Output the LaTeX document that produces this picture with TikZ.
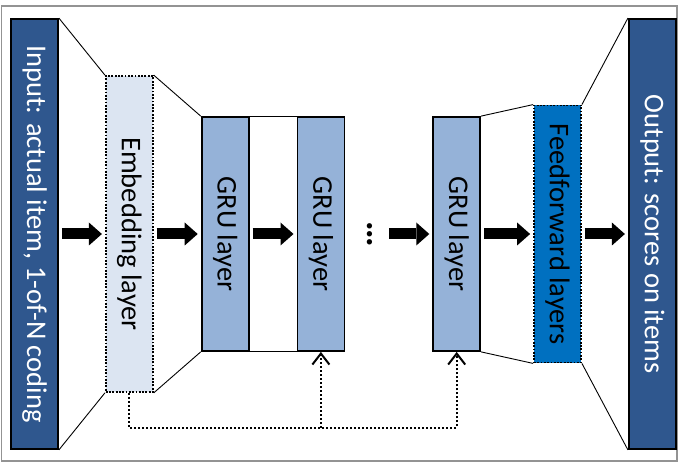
\documentclass[tikz,border=0pt]{standalone}
\usepackage{fontspec}
\setmainfont{Carlito}
\usetikzlibrary{positioning,arrows.meta}

\definecolor{iodark}{RGB}{47,87,142}
\definecolor{embedlight}{RGB}{220,229,242}
\definecolor{grublue}{RGB}{149,178,216}
\definecolor{ffblue}{RGB}{0,112,192}

\begin{document}
\begin{tikzpicture}[
  x=1pt, y=-1pt, % pixel-like units, y pointing down
  layer/.style={rectangle, draw=black, line width=1.8pt, minimum width=47pt, inner sep=0pt, text centered, text=black, font=\fontsize{28.5}{30}\selectfont},
  io/.style={fill=iodark, text=white, minimum height=430pt}, % input and output bars
  embed/.style={fill=embedlight, dash pattern=on 1.8pt off 1.5pt, minimum height=316pt},
  gru/.style={fill=grublue, minimum height=234pt},
  ffwd/.style={fill=ffblue, dash pattern=on 1.8pt off 1.5pt, minimum height=257pt},
  funnel/.style={draw, line width=0.9pt}, % thin lines between layers
  bigarrow/.style={line width=11pt, -{Triangle[length=13pt, width=23pt, line width=0pt]}, shorten <=3pt, shorten >=3pt},
  feedback/.style={line width=2pt, dash pattern=on 2pt off 2pt, -{Straight Barb[length=11pt, width=17pt, line width=2pt]}}
]

\useasboundingbox (0,0) rectangle (680,465);
% Outer frame
\draw[gray!85, line width=1.5pt] (1.5,6) rectangle (677,461);

% Input bar
\node[layer, io] (in) at (34.5,234) {\rotatebox{-90}{Input: actual item, 1-of-N coding}};
% Embedding
\node[layer, embed, right=46pt of in] (emb) {\rotatebox{-90}{Embedding layer}};
% GRU layers
\node[layer, gru, right=47pt of emb] (gru1) {\rotatebox{-90}{GRU layer}};
\node[layer, gru, right=47pt of gru1] (gru2) {\rotatebox{-90}{GRU layer}};
\node[font=\fontsize{36}{38}\bfseries, inner sep=0pt, right=22pt of gru2] (dots) {\rotatebox{-90}{…}};
\node[layer, gru, right=87pt of gru2] (gru3) {\rotatebox{-90}{GRU layer}};
% Feedforward
\node[layer, ffwd, right=52pt of gru3] (ff) {\rotatebox{-90}{Feedforward layers}};
% Output bar
\node[layer, io, right=46pt of ff] (out) {\rotatebox{-90}{Output: scores on items}};

% Funnel lines
\draw[funnel] (in.north east) -- (emb.north west);
\draw[funnel] (in.south east) -- (emb.south west);
\draw[funnel] (emb.north east) -- (gru1.north west);
\draw[funnel] (emb.south east) -- (gru1.south west);
\draw[funnel] (gru1.north east) -- (gru2.north west);
\draw[funnel] (gru1.south east) -- (gru2.south west);
\draw[funnel] (gru3.north east) -- (ff.north west);
\draw[funnel] (gru3.south east) -- (ff.south west);
\draw[funnel] (ff.north east) -- (out.north west);
\draw[funnel] (ff.south east) -- (out.south west);

% Forward arrows
\draw[bigarrow] (in) -- (emb);
\draw[bigarrow] (emb) -- (gru1);
\draw[bigarrow] (gru1) -- (gru2);
\draw[bigarrow, shorten <=16pt] (dots) -- (gru3);
\draw[bigarrow] (gru3) -- (ff);
\draw[bigarrow] (ff) -- (out);

% Embedding fed to every GRU layer
\draw[feedback] (emb.south) -- ++(0,35) coordinate (fb) -| (gru3.south);
\draw[feedback] (fb -| gru2.south) -- (gru2.south);

\end{tikzpicture}
\end{document}
